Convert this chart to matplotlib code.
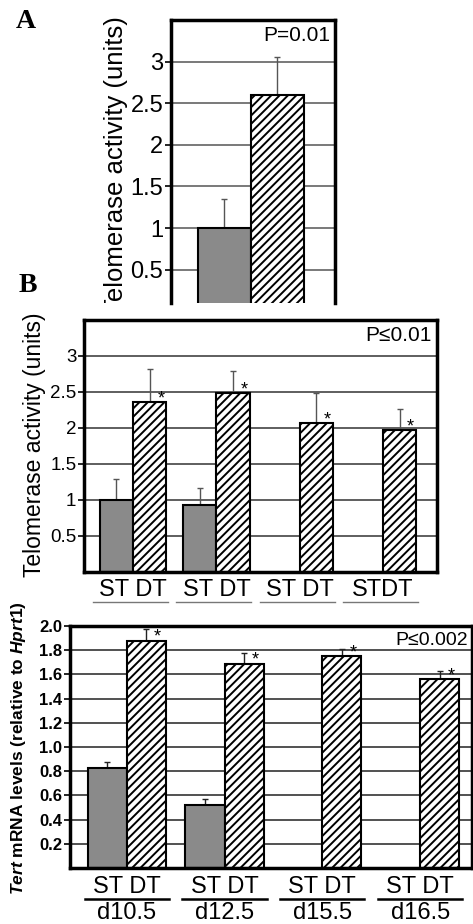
import numpy as np
import matplotlib.pyplot as plt
import matplotlib.transforms as mtransforms

plt.rcParams['font.family'] = ['Liberation Sans', 'DejaVu Sans']
plt.rcParams['mathtext.fontset'] = 'custom'
plt.rcParams['mathtext.rm'] = 'Liberation Sans:bold'
plt.rcParams['mathtext.it'] = 'Liberation Sans:italic:bold'
plt.rcParams['mathtext.bf'] = 'Liberation Sans:bold'
plt.rcParams['hatch.linewidth'] = 1.4

# panel A: telomerase activity, single comparison
a_st, a_st_err = 1.0, 0.35
a_dt, a_dt_err = 2.6, 0.46
a_ticks = [0.5, 1, 1.5, 2, 2.5, 3]
a_ticklabels = ['0.5', '1', '1.5', '2', '2.5', '3']

# panel B: telomerase activity by group (ST missing for last two)
b_groups = ['ST DT', 'ST DT', 'ST DT', 'STDT']
b_st = [1.0, 0.93, np.nan, np.nan]
b_st_err = [0.29, 0.23, np.nan, np.nan]
b_dt = [2.36, 2.48, 2.07, 1.97]
b_dt_err = [0.46, 0.31, 0.41, 0.30]
b_ticks = [0.5, 1, 1.5, 2, 2.5, 3]
b_ticklabels = ['0.5', '1', '1.5', '2', '2.5', '3']

# panel C: Tert mRNA levels
c_days = ['d10.5', 'd12.5', 'd15.5', 'd16.5']
c_st = [0.83, 0.52, np.nan, np.nan]
c_st_err = [0.045, 0.05, np.nan, np.nan]
c_dt = [1.88, 1.69, 1.75, 1.56]
c_dt_err = [0.095, 0.09, 0.06, 0.07]
c_ticks = [0.2, 0.4, 0.6, 0.8, 1.0, 1.2, 1.4, 1.6, 1.8, 2.0]
c_ticklabels = ['0.2', '0.4', '0.6', '0.8', '1.0', '1.2', '1.4', '1.6', '1.8', '2.0']

W, H = 473, 924
fig = plt.figure(figsize=(W / 100, H / 100), dpi=100)
GRAY = '#8a8a8a'


def px_axes(left, top, right, bottom):
    return fig.add_axes([left / W, 1 - bottom / H, (right - left) / W, (bottom - top) / H])


def style_axes(ax, spine_lw, grid_color, tick_size, bold=False):
    ax.set_axisbelow(True)
    ax.yaxis.grid(True, color=grid_color, lw=1.1)
    ax.xaxis.set_visible(False)
    for s in ax.spines.values():
        s.set_linewidth(spine_lw)
    ax.tick_params(axis='y', direction='out', length=4, width=1.2, pad=1.5,
                   labelsize=tick_size)
    if bold:
        for lab in ax.get_yticklabels():
            lab.set_fontweight('bold')


def draw_groups(ax, st, st_err, dt, dt_err, w, ecolor, star_size):
    x = np.arange(len(dt))
    st = np.array(st)
    m = ~np.isnan(st)
    ax.bar(x[m] - w / 2, st[m], width=w, color=GRAY, edgecolor='black', lw=1.5, zorder=2)
    ax.bar(x + w / 2, dt, width=w, color='white', hatch='////', edgecolor='black', lw=1.5, zorder=2)
    st_err = np.array(st_err)
    ax.errorbar(x[m] - w / 2, st[m], yerr=[np.zeros(m.sum()), st_err[m]], fmt='none',
                ecolor=ecolor, elinewidth=1, capsize=2.2, capthick=1, zorder=1.5)
    ax.errorbar(x + w / 2, dt, yerr=[np.zeros(len(dt)), dt_err], fmt='none',
                ecolor=ecolor, elinewidth=1, capsize=2.2, capthick=1, zorder=1.5)
    for xi, v in zip(x, dt):
        ax.annotate('*', xy=(xi + w / 2, v), xytext=(8, 2.5), textcoords='offset points',
                    ha='center', va='center', fontsize=star_size, zorder=4)
    return x


# ---------- A ----------
axA = px_axes(171, 20, 335, 303)
axA.bar([0], [a_st], width=1.0, color=GRAY, edgecolor='black', lw=1.5, zorder=2)
axA.bar([1], [a_dt], width=1.0, color='white', hatch='////', edgecolor='black', lw=1.5, zorder=2)
axA.errorbar([0, 1], [a_st, a_dt], yerr=[[0, 0], [a_st_err, a_dt_err]], fmt='none',
             ecolor='#555555', elinewidth=1, capsize=2.5, capthick=1, zorder=1.5)
axA.set_xlim(-1.0, 2.09)
axA.set_ylim(0.1, 3.5)
axA.set_yticks(a_ticks)
axA.set_yticklabels(a_ticklabels)
style_axes(axA, 2.5, '#555555', 17)
axA.spines['bottom'].set_visible(False)
axA.text(0.97, 0.945, 'P=0.01', transform=axA.transAxes, ha='right', va='center', fontsize=15)
labA = fig.text(116 / W, 1 - 165 / H, 'Telomerase activity (units)', rotation=90,
                ha='center', va='center', fontsize=18.5)
labA.set_clip_box(mtransforms.TransformedBbox(
    mtransforms.Bbox.from_extents(0, 1 - 303 / H, 1, 1), fig.transFigure))
labA.set_clip_on(True)
fig.text(26 / W, 1 - 21 / H, 'A', family='Liberation Serif', weight='bold',
         fontsize=20, ha='center', va='center')

# ---------- B ----------
axB = px_axes(84, 320, 437, 572)
xb = draw_groups(axB, b_st, b_st_err, b_dt, b_dt_err, 0.4, '#555555', 13)
axB.set_xlim(-0.59, 3.65)
axB.set_ylim(0, 3.5)
axB.set_yticks(b_ticks)
axB.set_yticklabels(b_ticklabels)
style_axes(axB, 2.5, '#333333', 13.5)
axB.text(0.985, 0.94, 'P≤0.01', transform=axB.transAxes, ha='right', va='center', fontsize=15)
fig.text(35 / W, 1 - 445 / H, 'Telomerase activity (units)', rotation=90,
         ha='center', va='center', fontsize=16.5)
trB = mtransforms.blended_transform_factory(axB.transData, fig.transFigure)
for xi, g in zip(xb, b_groups):
    axB.text(xi, 1 - 590 / H, g, transform=trB, ha='center', va='center', fontsize=17)
    axB.plot([xi - 0.48, xi + 0.42], [1 - 602 / H] * 2, transform=trB, color='#777777',
             lw=1, clip_on=False)
fig.text(28 / W, 1 - 286 / H, 'B', family='Liberation Serif', weight='bold',
         fontsize=20, ha='center', va='center')

# ---------- C ----------
axC = px_axes(70, 626, 472, 868)
xc = draw_groups(axC, c_st, c_st_err, c_dt, c_dt_err, 0.4, '#222222', 13)
axC.set_xlim(-0.58, 3.53)
axC.set_ylim(0, 2.0)
axC.set_yticks(c_ticks)
axC.set_yticklabels(c_ticklabels)
style_axes(axC, 2.5, '#222222', 12, bold=True)
axC.text(0.99, 0.94, 'P≤0.002', transform=axC.transAxes, ha='right', va='center', fontsize=14)
fig.text(19 / W, 1 - 748 / H, r'$\mathit{Tert}$ mRNA levels (relative to $\mathit{Hprt1}$)',
         rotation=90, ha='center', va='center', fontsize=12.5, weight='bold')
trC = mtransforms.blended_transform_factory(axC.transData, fig.transFigure)
for xi, d in zip(xc, c_days):
    axC.text(xi, 1 - 887 / H, 'ST DT', transform=trC, ha='center', va='center', fontsize=17)
    axC.plot([xi - 0.43, xi + 0.43], [1 - 899 / H] * 2, transform=trC, color='black',
             lw=1.8, clip_on=False)
    axC.text(xi, 1 - 913 / H, d, transform=trC, ha='center', va='center', fontsize=17)

fig.savefig('out.png', dpi=100)
